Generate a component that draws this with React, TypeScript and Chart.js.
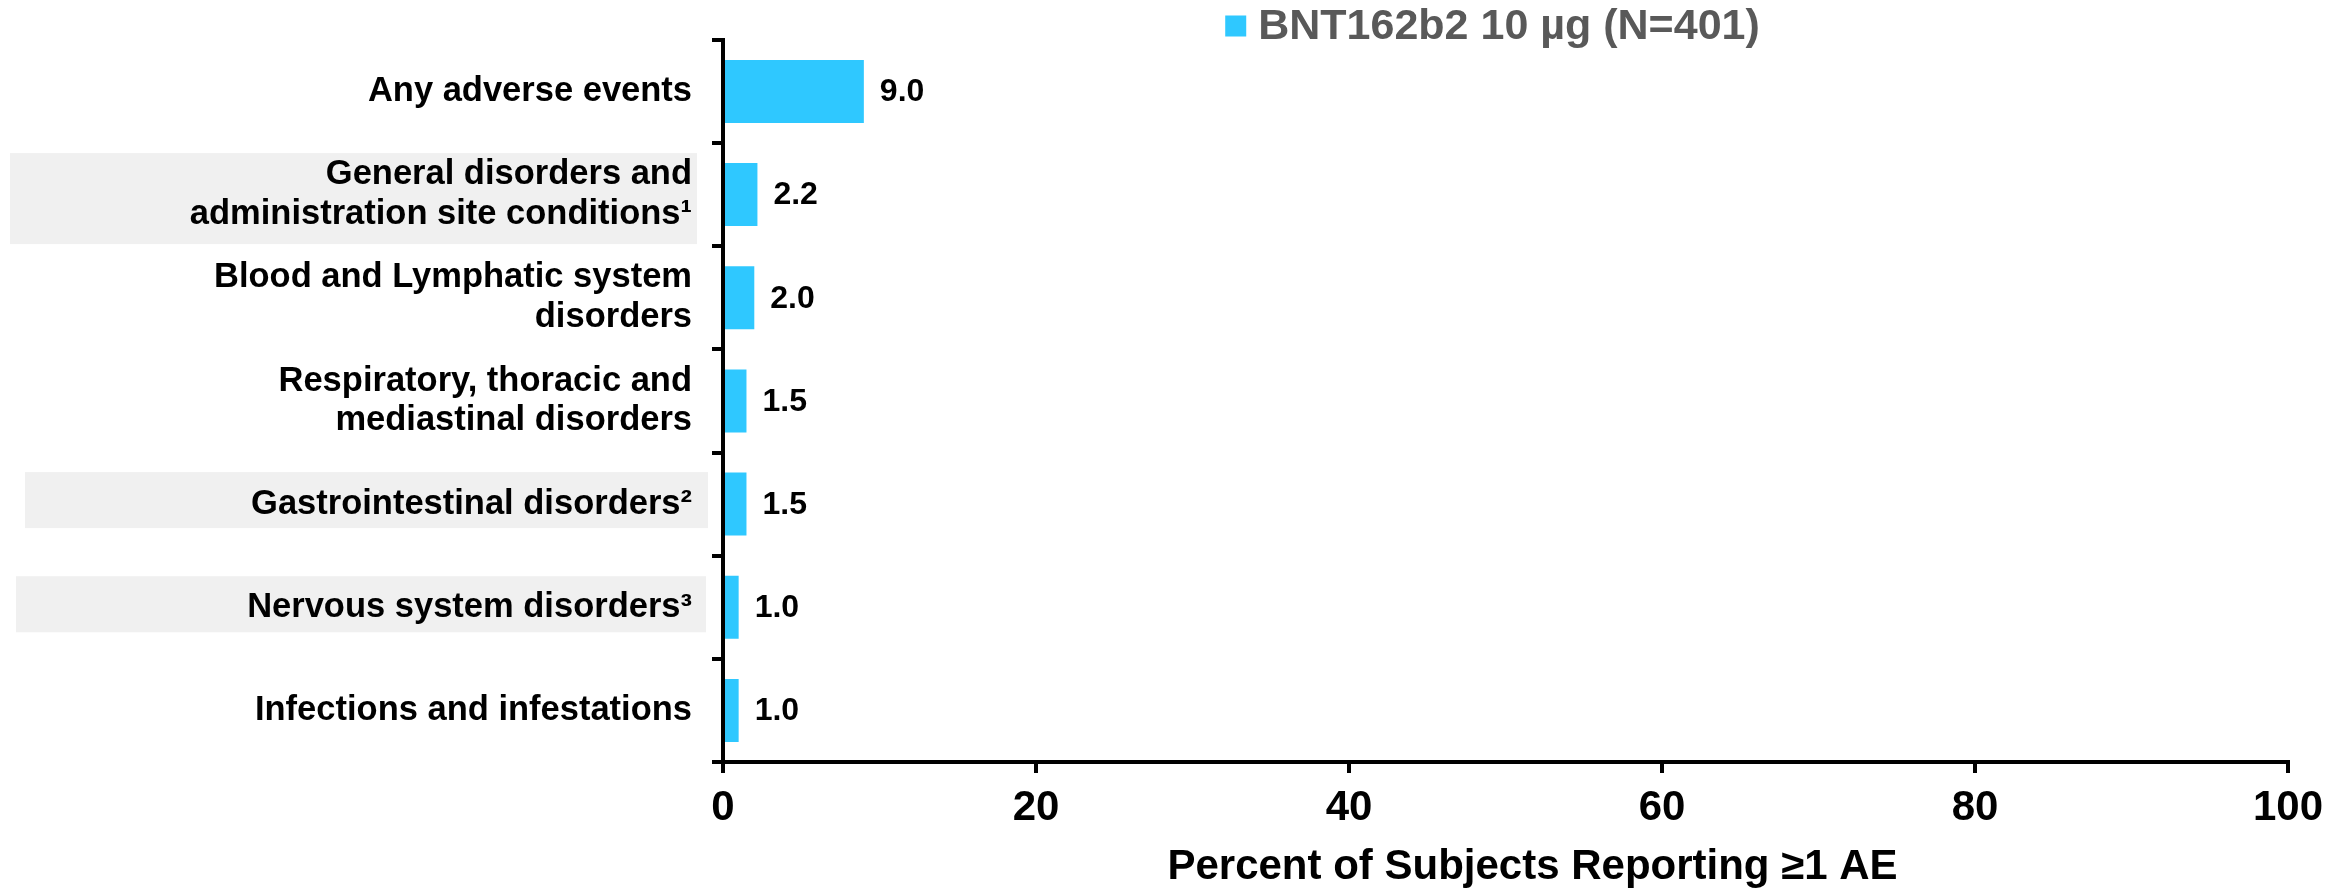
import React, { useEffect, useRef } from "react";
import { Chart, registerables } from "chart.js";

Chart.register(...registerables);

const CATEGORIES: (string | string[])[] = [
  "Any adverse events",
  ["General disorders and", "administration site conditions¹"],
  ["Blood and Lymphatic system", "disorders"],
  ["Respiratory, thoracic and", "mediastinal disorders"],
  "Gastrointestinal disorders²",
  "Nervous system disorders³",
  "Infections and infestations",
];
const VALUES = [9.0, 2.2, 2.0, 1.5, 1.5, 1.0, 1.0];
const SERIES_LABEL = "BNT162b2 10 µg (N=401)";
const AXIS_TITLE = "Percent of Subjects Reporting ≥1 AE";
const X_MIN = 0;
const X_MAX = 100;
const X_STEP = 20;
const HIGHLIGHTED = [1, 4, 5];

const FONT = "'Liberation Sans', Arial, Helvetica, sans-serif";
const BAR_COLOR = "#2FC8FF";

// visual geometry of the label highlight boxes (relative to the row centre / axis)
const BOX_STYLE: Record<number, { dy: number; h: number; l: number; r: number }> = {
  1: { dy: 4, h: 91, l: 713, r: 26 },
  4: { dy: -4, h: 56, l: 698, r: 15 },
  5: { dy: -3, h: 56, l: 707, r: 17 },
};

const highlightPlugin = {
  id: "labelHighlight",
  beforeDraw(chart: any) {
    const { ctx, chartArea } = chart;
    const y = chart.scales.y;
    ctx.save();
    ctx.fillStyle = "#F0F0F0";
    HIGHLIGHTED.forEach((i) => {
      const s = BOX_STYLE[i];
      const cy = y.getPixelForValue(i) + s.dy;
      const left = chartArea.left - s.l;
      const right = chartArea.left - s.r;
      ctx.fillRect(left, cy - s.h / 2, right - left, s.h);
    });
    ctx.restore();
  },
};

const valueLabelPlugin = {
  id: "valueLabels",
  afterDatasetsDraw(chart: any) {
    const { ctx } = chart;
    const meta = chart.getDatasetMeta(0);
    ctx.save();
    ctx.font = `bold 32px ${FONT}`;
    ctx.fillStyle = "#000";
    ctx.textAlign = "left";
    ctx.textBaseline = "middle";
    meta.data.forEach((bar: any, i: number) => {
      ctx.fillText(VALUES[i].toFixed(1), bar.x + 16, bar.y + 1);
    });
    ctx.restore();
  },
};

const legendTitlePlugin = {
  id: "legendTitle",
  afterDraw(chart: any) {
    const { ctx, chartArea } = chart;
    ctx.save();
    ctx.font = `bold 43px ${FONT}`;
    const tw = ctx.measureText(SERIES_LABEL).width;
    const box = 21;
    const gap = 12;
    const total = box + gap + tw;
    const cx = (chartArea.left + chartArea.right) / 2 - 13;
    const sx = cx - total / 2;
    const cy = 26;
    ctx.fillStyle = chart.data.datasets[0].backgroundColor;
    ctx.fillRect(sx, cy - box / 2, box, box);
    ctx.fillStyle = "#595959";
    ctx.textAlign = "left";
    ctx.textBaseline = "middle";
    ctx.fillText(SERIES_LABEL, sx + box + gap, cy + 1);
    ctx.fillStyle = "#000";
    ctx.textAlign = "center";
    ctx.font = `bold 42px ${FONT}`;
    const tx = (chartArea.left + chartArea.right) / 2 + 27;
    ctx.fillText(AXIS_TITLE, tx, chartArea.bottom + 105);
    ctx.restore();
  },
};

export default function App() {
  const canvasRef = useRef<HTMLCanvasElement | null>(null);

  useEffect(() => {
    if (!canvasRef.current) return;
    const chart = new Chart(canvasRef.current, {
      type: "bar",
      data: {
        labels: CATEGORIES,
        datasets: [
          {
            label: SERIES_LABEL,
            data: VALUES,
            backgroundColor: BAR_COLOR,
            borderWidth: 0,
            barPercentage: 0.61,
            categoryPercentage: 1.0,
          },
        ],
      },
      options: {
        indexAxis: "y",
        animation: false,
        responsive: true,
        maintainAspectRatio: false,
        layout: { padding: { top: 38, right: 63, left: 0, bottom: 0 } },
        plugins: {
          legend: { display: false },
          tooltip: { enabled: false },
          title: { display: false },
        },
        scales: {
          x: {
            type: "linear",
            min: X_MIN,
            max: X_MAX,
            ticks: {
              stepSize: X_STEP,
              color: "#000",
              font: { family: FONT, size: 42, weight: "bold" },
              padding: 10,
            },
            grid: {
              drawOnChartArea: false,
              drawTicks: true,
              tickLength: 11,
              color: "#000",
              lineWidth: 4,
            },
            border: { display: true, color: "#000", width: 4 },
            afterFit(scale: any) {
              scale.height = 127;
            },
          },
          y: {
            type: "category",
            ticks: {
              color: "#000",
              font: { family: FONT, size: 34.5, weight: "bold", lineHeight: 1.15 },
              padding: 20,
              autoSkip: false,
            },
            grid: {
              offset: true,
              drawOnChartArea: false,
              drawTicks: true,
              tickLength: 11,
              color: "#000",
              lineWidth: 4,
            },
            border: { display: true, color: "#000", width: 4 },
            afterFit(scale: any) {
              scale.width = 723;
            },
          },
        },
      },
      plugins: [highlightPlugin, valueLabelPlugin, legendTitlePlugin],
    } as any);
    return () => chart.destroy();
  }, []);

  return (
    <div
      style={{
        position: "fixed",
        left: 0,
        top: 0,
        width: 2351,
        height: 889,
        background: "#fff",
      }}
    >
      <canvas ref={canvasRef} />
    </div>
  );
}
